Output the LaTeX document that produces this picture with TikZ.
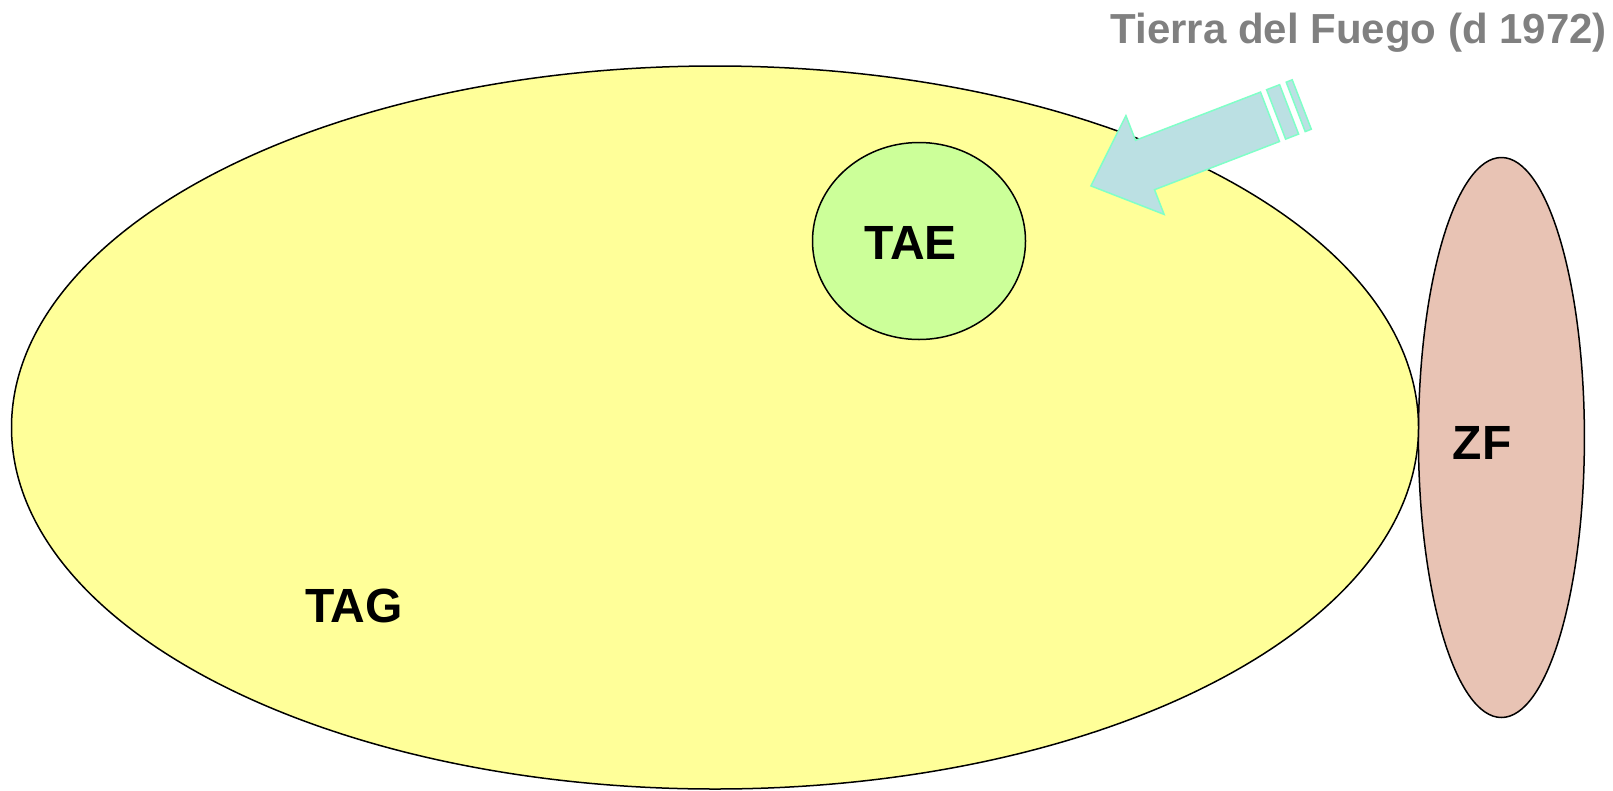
\documentclass[tikz,border=0pt]{standalone}
\usepackage{fontspec}
\setmainfont{Liberation Sans}
\usetikzlibrary{shapes.geometric}
\definecolor{tagyellow}{RGB}{255,255,153}
\definecolor{taegreen}{RGB}{204,255,153}
\definecolor{zfpink}{RGB}{232,195,180}
\definecolor{arrowfill}{RGB}{187,224,227}
\definecolor{arrowline}{RGB}{128,255,200}
\definecolor{titlegray}{RGB}{128,128,128}
\tikzset{
  region/.style={ellipse, draw=black, line width=1.5pt, inner sep=0pt, outer sep=0pt},
  regionlabel/.style={inner sep=0pt, font=\fontsize{48}{48}\selectfont\bfseries, text=black},
  blockarrow/.style={fill=arrowfill, draw=arrowline, line width=1.5pt, line join=miter}
}
\begin{document}
\begin{tikzpicture}[x=1pt,y=-1pt]
\useasboundingbox (0,0) rectangle (1613,790);
\fill[white] (0,0) rectangle (1613,790);
% regions
\node[region, fill=zfpink, minimum width=166pt, minimum height=560pt] (zf) at (1501.4,437.5) {};
\node[region, fill=tagyellow, minimum width=1407pt, minimum height=723pt] (tag) at (715,427.5) {};
\node[region, fill=taegreen, minimum width=213pt, minimum height=197pt] (tae) at (919,241) {};
% labels
\node[regionlabel] (taglabel) at (354,606) {TAG};
\node[regionlabel] (taelabel) at (910.5,242.5) {TAE};
\node[regionlabel] (zflabel) at (1482,443) {ZF};
% striped block arrow
\draw[blockarrow] (1090.9,185.9) -- (1125.9,115.6) -- (1135.5,140.3) -- (1260.5,92.1)
  -- (1279.5,141.5) -- (1154.5,189.7) -- (1164.1,214.4) -- cycle;
\draw[blockarrow] (1266.6,89.7) -- (1279.6,84.7) -- (1298.6,134.1) -- (1285.6,139.1) -- cycle;
\draw[blockarrow] (1286.2,82.2) -- (1292.2,79.8) -- (1311.3,129.2) -- (1305.2,131.6) -- cycle;
% title
\node[anchor=base east, inner sep=0pt, text=titlegray, font=\fontsize{42}{42}\selectfont\bfseries] (title) at (1607,43) {Tierra del Fuego (d 1972)};
\end{tikzpicture}
\end{document}
